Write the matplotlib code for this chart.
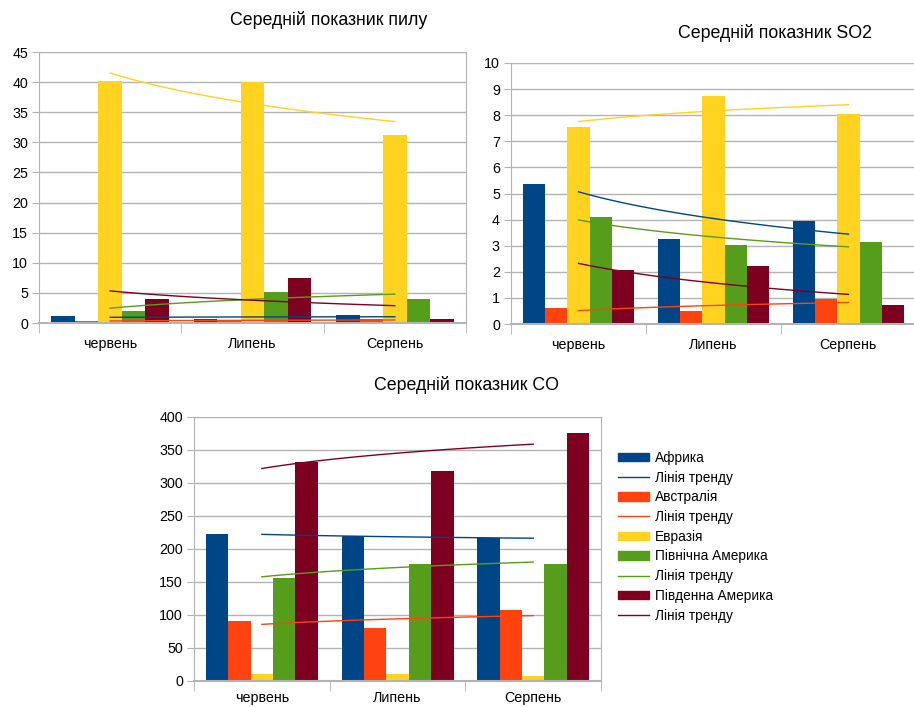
import numpy as np
import matplotlib
matplotlib.use("Agg")
import matplotlib.pyplot as plt
from matplotlib.lines import Line2D
from matplotlib.patches import Patch

plt.rcParams['font.family'] = ['Liberation Sans', 'DejaVu Sans']

months = ['червень', 'Липень', 'Серпень']
regions = ['Африка', 'Австралія', 'Евразія', 'Північна Америка', 'Південна Америка']
colors = ['#004586', '#ff420e', '#ffd320', '#579d1c', '#7e0021']

# average dust
dust_africa = [1.1, 0.6, 1.3]
dust_australia = [0.4, 0.3, 0.6]
dust_eurasia = [40.2, 40.0, 31.2]
dust_n_america = [2.0, 5.2, 4.0]
dust_s_america = [4.0, 7.4, 0.6]

# average SO2
so2_africa = [5.35, 3.27, 3.93]
so2_australia = [0.6, 0.48, 0.97]
so2_eurasia = [7.55, 8.72, 8.05]
so2_n_america = [4.1, 3.03, 3.15]
so2_s_america = [2.08, 2.23, 0.72]

# average CO
co_africa = [222, 219, 216]
co_australia = [91, 80, 108]
co_eurasia = [10, 10, 7]
co_n_america = [156, 177, 177]
co_s_america = [332, 318, 376]

GRID = '#b3b3b3'
TICK_FS = 10.3


def log_trend(values):
    # logarithmic trend line, y = a + b*ln(x), x = 1..n
    x = np.arange(1, len(values) + 1)
    b, a = np.polyfit(np.log(x), values, 1)
    xs = np.linspace(1, len(values), 60)
    return xs - 1, a + b * np.log(xs)


def bar_chart(ax, series, trends, ymax, ystep, xpad=10):
    pos = np.arange(len(months))
    width = 0.165
    for i, vals in enumerate(series):
        ax.bar(pos + (i - 2) * width, vals, width, color=colors[i], zorder=2)
    for i, vals in enumerate(series):
        if trends[i]:
            tx, ty = log_trend(vals)
            ax.plot(tx, ty, color=colors[i], lw=1, zorder=3)
    ax.set_xlim(-0.5, len(months) - 0.5)
    ax.set_ylim(0, ymax)
    ax.set_yticks(np.arange(0, ymax + ystep / 2, ystep))
    ax.set_xticks(pos)
    ax.set_xticklabels(months)
    ax.set_xticks(np.arange(-0.5, len(months)), minor=True)
    ax.tick_params(axis='x', which='major', length=0, pad=xpad, labelsize=TICK_FS)
    ax.tick_params(axis='x', which='minor', length=7, color=GRID)
    ax.tick_params(axis='y', length=5, color=GRID, labelsize=TICK_FS, pad=3)
    ax.yaxis.grid(True, color=GRID, lw=1, zorder=0)
    ax.set_axisbelow(True)
    for s in ax.spines.values():
        s.set_color(GRID)
    ax.spines['bottom'].set_linewidth(1.5)


fig = plt.figure(figsize=(9.14, 7.07), dpi=100)

ax1 = fig.add_axes([0.0427, 0.5431, 0.4672, 0.3833])
bar_chart(ax1, [dust_africa, dust_australia, dust_eurasia, dust_n_america, dust_s_america],
          [True, True, True, True, True], 45, 5)
fig.text(0.359, 0.972, 'Середній показник пилу', ha='center', va='center', fontsize=12.8)

ax2 = fig.add_axes([0.5591, 0.5417, 0.443, 0.3692])
bar_chart(ax2, [so2_africa, so2_australia, so2_eurasia, so2_n_america, so2_s_america],
          [True, True, True, True, True], 10, 1)
fig.text(0.848, 0.953, 'Середній показник SO2', ha='center', va='center', fontsize=12.8)

ax3 = fig.add_axes([0.2123, 0.0368, 0.4453, 0.3734])
bar_chart(ax3, [co_africa, co_australia, co_eurasia, co_n_america, co_s_america],
          [True, True, False, True, True], 400, 50, xpad=7)
fig.text(0.51, 0.455, 'Середній показник CO', ha='center', va='center', fontsize=12.8)

handles = [
    Patch(color=colors[0]), Line2D([], [], color=colors[0], lw=1),
    Patch(color=colors[1]), Line2D([], [], color=colors[1], lw=1),
    Patch(color=colors[2]),
    Patch(color=colors[3]), Line2D([], [], color=colors[3], lw=1),
    Patch(color=colors[4]), Line2D([], [], color=colors[4], lw=1),
]
labels = ['Африка', 'Лінія тренду', 'Австралія', 'Лінія тренду', 'Евразія',
          'Північна Америка', 'Лінія тренду', 'Південна Америка', 'Лінія тренду']
fig.legend(handles, labels, loc='upper left', bbox_to_anchor=(0.67, 0.370),
           frameon=False, fontsize=9.8, handlelength=2.3, handleheight=0.6,
           handletextpad=0.4, labelspacing=0.42, borderaxespad=0)

fig.savefig('out.png', dpi=100)
